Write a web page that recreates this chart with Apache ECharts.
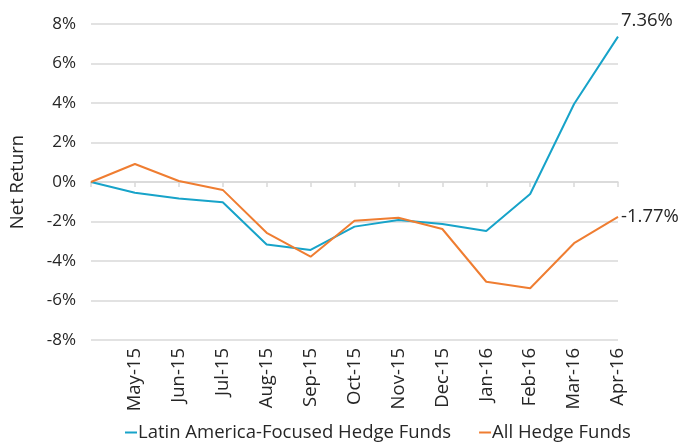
<!DOCTYPE html>
<html>
<head>
<meta charset="utf-8">
<script src="https://cdn.jsdelivr.net/npm/echarts@6/dist/echarts.min.js"></script>
<style>html,body{margin:0;padding:0;background:#fff}#c{width:690px;height:444px}</style>
</head>
<body>
<div id="c"></div>
<script>
const categories = ['Apr-15','May-15','Jun-15','Jul-15','Aug-15','Sep-15','Oct-15','Nov-15','Dec-15','Jan-16','Feb-16','Mar-16','Apr-16'];
const latamFunds = [0, -0.54, -0.83, -1.03, -3.16, -3.44, -2.26, -1.92, -2.13, -2.48, -0.61, 3.95, 7.36];
const allFunds = [0, 0.91, 0.05, -0.40, -2.57, -3.78, -1.96, -1.81, -2.38, -5.05, -5.38, -3.10, -1.77];
const yTicks = [-8, -6, -4, -2, 0, 2, 4, 6, 8];

const FONT = 'Open Sans';
const FS = 17;
const FSX = 18.5;
const TXT = '#262626';
const chart = echarts.init(document.getElementById('c'), null, {renderer: 'canvas'});
chart.setOption({
  animation: false,
  textStyle: {fontFamily: FONT},
  grid: {left: 91, right: 72, top: 24, bottom: 104, containLabel: false},
  xAxis: [{
    type: 'category', data: categories, boundaryGap: false, position: 'bottom',
    axisLine: {show: false, onZero: false}, axisTick: {show: false},
    axisLabel: {rotate: 90, margin: 8, color: TXT, fontSize: FSX, fontFamily: FONT,
      interval: 0, formatter: (v, i) => i === 0 ? '' : v}
  }, {
    type: 'category', data: categories, boundaryGap: false, position: 'top',
    axisLine: {show: true, onZero: true, lineStyle: {color: '#d9d9d9', width: 1.5}},
    axisTick: {show: true, inside: true, length: 5, interval: 0, lineStyle: {color: '#d9d9d9', width: 1.5}},
    axisLabel: {show: false}
  }],
  yAxis: {
    type: 'value', min: yTicks[0], max: yTicks[yTicks.length-1], interval: 2,
    name: 'Net Return', nameLocation: 'middle', nameGap: 64,
    nameTextStyle: {color: TXT, fontSize: FSX, fontFamily: FONT},
    axisLine: {show: false}, axisTick: {show: false},
    axisLabel: {color: TXT, fontSize: FS, margin: 15, fontFamily: FONT, formatter: v => v + '%'},
    splitLine: {lineStyle: {color: '#d9d9d9', width: 1.5}}
  },
  legend: {
    bottom: -3, left: 120, itemGap: 28, itemWidth: 12, itemHeight: 2, icon: 'rect',
    textStyle: {color: TXT, fontSize: FSX, fontFamily: FONT, padding: [0,0,0,-4]},
    data: ['Latin America-Focused Hedge Funds', 'All Hedge Funds']
  },
  series: [{
    name: 'Latin America-Focused Hedge Funds', type: 'line', data: latamFunds,
    xAxisIndex: 0, showSymbol: false, symbol: 'none',
    lineStyle: {color: '#17a3c9', width: 2}, itemStyle: {color: '#17a3c9'},
    endLabel: {show: true, formatter: p => p.value.toFixed(2) + '%', color: TXT, fontSize: FSX, fontFamily: FONT, distance: 3, offset: [0, -16]}
  }, {
    name: 'All Hedge Funds', type: 'line', data: allFunds,
    xAxisIndex: 0, showSymbol: false, symbol: 'none',
    lineStyle: {color: '#ef7d31', width: 2}, itemStyle: {color: '#ef7d31'},
    endLabel: {show: true, formatter: p => p.value.toFixed(2) + '%', color: TXT, fontSize: FSX, fontFamily: FONT, distance: 3}
  }]
});
</script>
</body>
</html>
